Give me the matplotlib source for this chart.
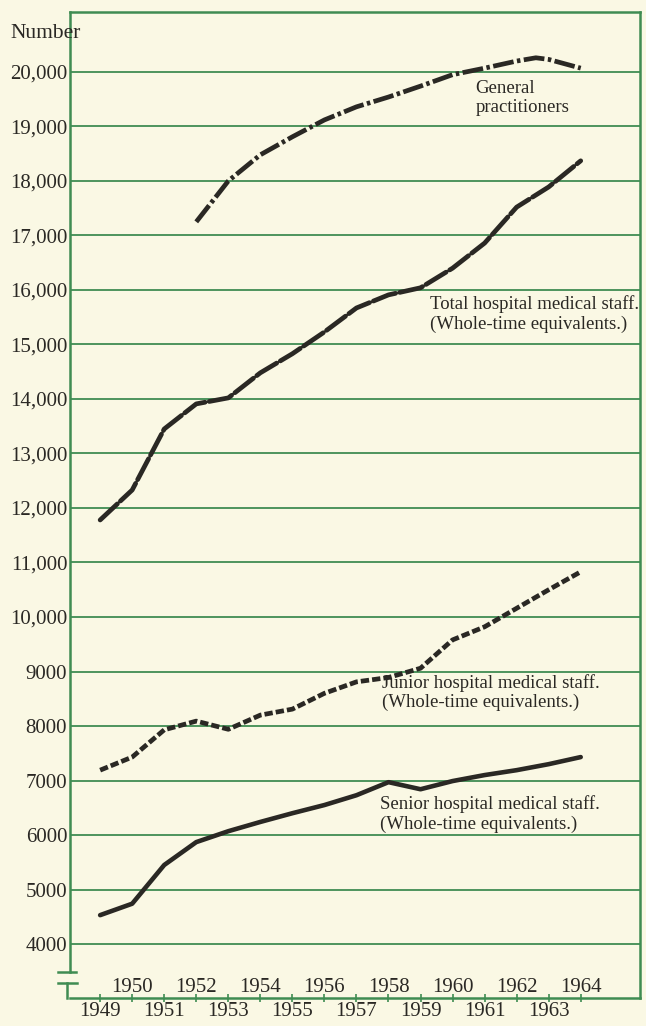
import matplotlib
matplotlib.use("Agg")
import matplotlib.pyplot as plt

# Doctors in the health service, 1949-1964
gp_years = [1952, 1953, 1954, 1955, 1956, 1957, 1958, 1959, 1960, 1961, 1962, 1962.6, 1963, 1964]
gp_values = [17250, 18000, 18480, 18810, 19120, 19360, 19540, 19740, 19950, 20070, 20200, 20260, 20230, 20070]

years = [1949, 1950, 1951, 1952, 1953, 1954, 1955, 1956, 1957, 1958, 1959, 1960, 1961, 1962, 1963, 1964]
total_staff = [11780, 12330, 13450, 13910, 14020, 14480, 14830, 15230, 15670, 15910, 16040, 16400, 16860, 17520, 17890, 18370]
junior_staff = [7190, 7430, 7930, 8090, 7940, 8200, 8310, 8600, 8810, 8890, 9060, 9580, 9820, 10160, 10500, 10830]
senior_staff = [4530, 4740, 5450, 5870, 6070, 6240, 6400, 6550, 6730, 6970, 6840, 6990, 7100, 7190, 7300, 7430]

y_ticks = [4000, 5000, 6000, 7000, 8000, 9000, 10000, 11000, 12000, 13000, 14000,
           15000, 16000, 17000, 18000, 19000, 20000]
y_labels = ["4000", "5000", "6000", "7000", "8000", "9000", "10,000", "11,000", "12,000",
            "13,000", "14,000", "15,000", "16,000", "17,000", "18,000", "19,000", "20,000"]

green = "#3f8c52"
ink = "#2a2824"
paper = "#faf8e4"

plt.rcParams["font.family"] = ["Liberation Serif", "DejaVu Serif"]
plt.rcParams["lines.scale_dashes"] = False

fig = plt.figure(figsize=(6.46, 10.26), dpi=100, facecolor=paper)
ax = fig.add_axes([0.1084, 0.0273, 0.8823, 0.961])
ax.set_facecolor(paper)

ax.set_xlim(1948.06, 1965.85)
ax.set_ylim(3010, 21100)

# gridlines
for v in y_ticks:
    ax.axhline(v, color=green, lw=1.3, zorder=1)

# the four series
ax.plot(gp_years, gp_values, color=ink, lw=3.4, dashes=[15, 2.5, 2.5, 2.5],
        dash_capstyle="butt", solid_joinstyle="round", zorder=3)
ax.plot(years, total_staff, color=ink, lw=3.4, dashes=[17, 3],
        dash_capstyle="round", zorder=3)
ax.plot(years, junior_staff, color=ink, lw=3.4, dashes=[6, 2.2], zorder=3)
ax.plot(years, senior_staff, color=ink, lw=3.3, solid_capstyle="round",
        solid_joinstyle="round", zorder=3)

# labels on the curves
txt = dict(color=ink, fontsize=13.5, ha="left", va="center", linespacing=1.15)
ax.text(1960.72, 19520, "General\npractitioners", **txt)
ax.text(1959.3, 15560, "Total hospital medical staff.\n(Whole-time equivalents.)", **txt, clip_on=False)
ax.text(1957.8, 8615, "Junior hospital medical staff.\n(Whole-time equivalents.)", **txt, clip_on=False)
ax.text(1957.75, 6385, "Senior hospital medical staff.\n(Whole-time equivalents.)", **txt, clip_on=False)

# axes frame
for side in ["top", "right", "bottom"]:
    ax.spines[side].set_color(green)
    ax.spines[side].set_linewidth(1.8)
ax.spines["left"].set_visible(False)

# broken left axis
tr = ax.transAxes
ax.plot([0, 0], [0.0264, 1.0], color=green, lw=1.8, transform=tr, clip_on=False)
ax.plot([-0.021, 0.011], [0.0264, 0.0264], color=green, lw=1.8, transform=tr, clip_on=False)
ax.plot([-0.006, -0.006], [0, 0.0152], color=green, lw=1.8, transform=tr, clip_on=False)
ax.plot([-0.021, 0.012], [0.0152, 0.0152], color=green, lw=1.8, transform=tr, clip_on=False)

ax.set_yticks(y_ticks)
ax.set_yticklabels(y_labels)
ax.tick_params(axis="y", length=0, pad=2, labelsize=15, labelcolor=ink)

ax.set_xticks(years)
ax.set_xticklabels([])
ax.tick_params(axis="x", direction="inout", length=6, width=1.2, color=green)

# staggered year labels
for yr in years:
    if yr % 2 == 0:
        ax.annotate(str(yr), xy=(yr, 0), xycoords=("data", "axes fraction"),
                    xytext=(0, 1), textcoords="offset points",
                    ha="center", va="bottom", fontsize=15, color=ink)
    else:
        ax.annotate(str(yr), xy=(yr, 0), xycoords=("data", "axes fraction"),
                    xytext=(0, -3), textcoords="offset points",
                    ha="center", va="top", fontsize=15, color=ink, annotation_clip=False)

fig.text(10 / 646, 1 - 33 / 1026, "Number", fontsize=15.5, color=ink, ha="left", va="center")

fig.savefig("out.png", dpi=100, facecolor=paper)
